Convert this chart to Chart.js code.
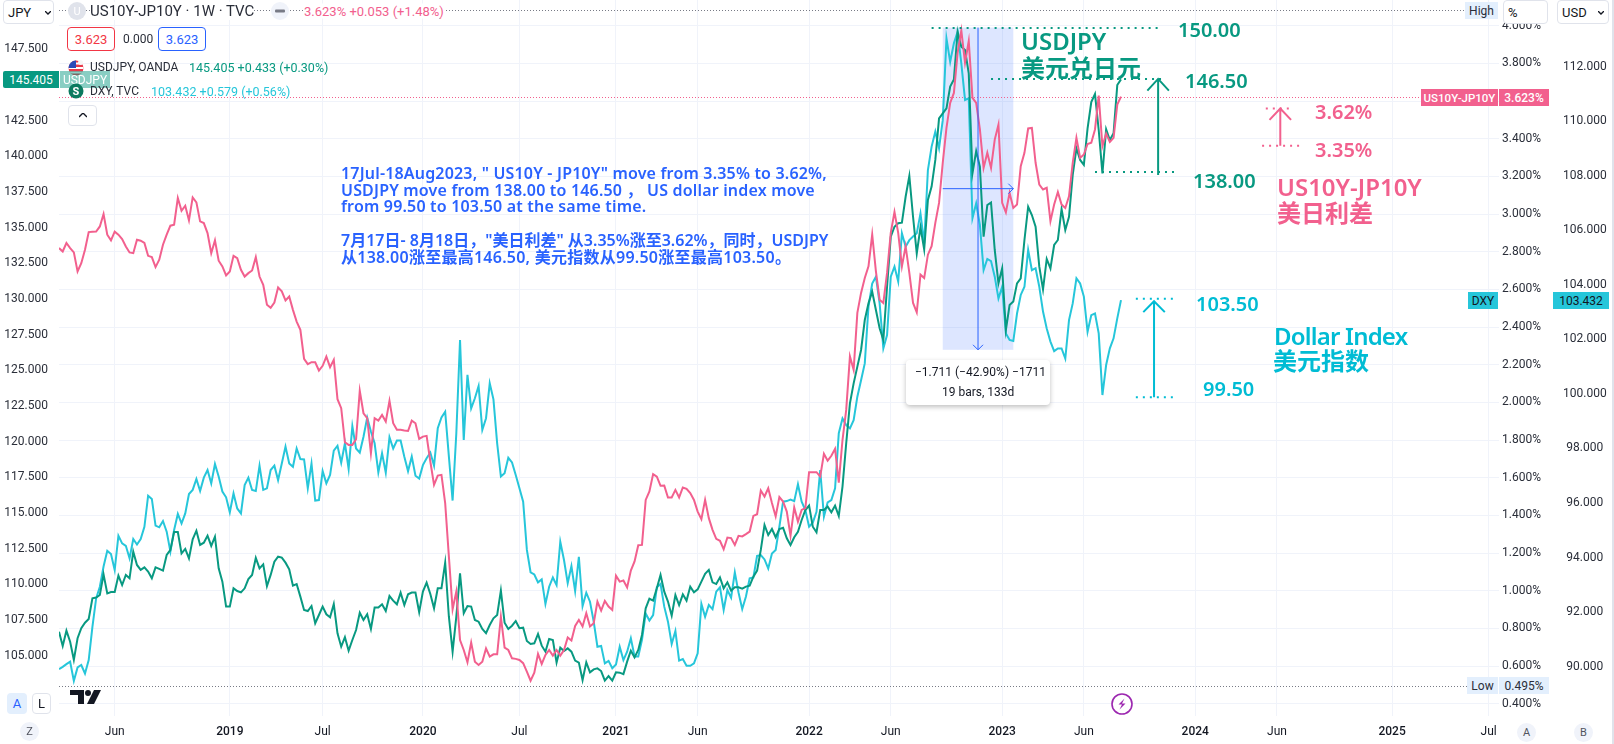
<!DOCTYPE html>
<html>
<head>
<meta charset="utf-8">
<title>US10Y-JP10Y, USDJPY, DXY</title>
<script src="https://cdn.jsdelivr.net/npm/chart.js@4"></script>
<style>
    html, body { margin: 0; background: #fff; overflow: hidden; }
    #wrap { position: relative; width: 1614px; height: 744px; font-family: Roboto, "Noto Sans CJK SC", sans-serif; color: #2a2e39; }
    #wrap canvas { position: absolute; left: 0; top: 0; }
    .t { position: absolute; white-space: nowrap; transform: translateY(-50%); }
    .box { position: absolute; box-sizing: border-box; display: flex; align-items: center; justify-content: center; white-space: nowrap; }
    .btn { border: 1px solid #e0e3eb; border-radius: 4px; background: #fff; color: #131722; font-size: 13px; }
    svg { position: absolute; }
</style>
</head>
<body>
<div id="wrap">
    <canvas id="chart" width="1614" height="744"></canvas>
</div>
<script>
// weekly closes
const spreadValues = [
    2.819,2.801,2.846,2.819,2.796,2.695,2.739,2.81,2.904,2.906,
    2.907,2.934,3.0,2.89,2.86,2.906,2.89,2.867,2.828,2.796,
    2.792,2.863,2.858,2.846,2.778,2.771,2.718,2.757,2.837,2.89,
    2.938,2.943,3.085,3.017,3.044,2.966,3.088,3.062,2.961,2.952,
    2.899,2.792,2.86,2.752,2.722,2.674,2.695,2.778,2.766,2.704,
    2.668,2.686,2.7,2.771,2.668,2.624,2.518,2.502,2.53,2.61,
    2.589,2.541,2.562,2.491,2.429,2.385,2.231,2.203,2.213,2.213,
    2.169,2.194,2.243,2.187,2.226,2.017,1.969,1.788,1.774,1.774,
    1.804,2.061,1.942,1.916,1.73,1.916,1.903,1.933,1.898,2.008,
    1.889,1.854,1.854,1.85,1.848,1.903,1.889,1.806,1.818,1.822,
    1.686,1.562,1.611,1.615,1.465,1.181,0.901,0.995,0.738,0.685,
    0.62,0.724,0.623,0.606,0.623,0.693,0.65,0.662,0.662,0.862,
    0.698,0.685,0.641,0.638,0.632,0.615,0.57,0.522,0.565,0.664,
    0.611,0.659,0.685,0.655,0.685,0.655,0.685,0.751,0.735,0.813,
    0.845,0.81,0.88,0.81,0.827,0.942,0.894,0.946,0.916,0.898,
    1.079,1.048,1.054,1.017,1.107,1.155,1.241,1.243,1.482,1.527,
    1.619,1.606,1.557,1.558,1.495,1.495,1.535,1.495,1.548,1.541,
    1.518,1.482,1.42,1.38,1.482,1.385,1.323,1.275,1.265,1.22,
    1.282,1.279,1.243,1.291,1.288,1.3,1.314,1.397,1.406,1.532,
    1.5,1.544,1.465,1.394,1.497,1.473,1.42,1.291,1.442,1.367,
    1.429,1.438,1.629,1.629,1.629,1.606,1.727,1.69,1.716,1.753,
    1.574,1.8,1.96,2.244,2.173,2.475,2.581,2.66,2.722,2.891,
    2.696,2.545,2.528,2.687,2.9,3.011,2.9,2.722,2.829,2.687,
    2.528,2.478,2.678,2.66,2.784,2.829,2.953,3.059,3.272,3.457,
    3.59,3.643,3.856,3.975,3.803,3.918,3.617,3.59,3.449,3.245,
    3.325,3.245,3.395,3.475,3.059,3.009,3.112,3.032,3.05,3.254,
    3.325,3.454,3.457,3.272,3.156,3.13,3.139,2.962,3.05,3.117,
    3.05,3.032,3.094,3.272,3.404,3.298,3.316,3.372,3.378,3.449,
    3.629,3.36,3.427,3.383,3.404,3.581,3.623
];
const usdjpyValues = [
    106.68,105.68,106.75,105.98,104.7,106.22,106.92,107.31,107.57,109.02,
    109.07,109.25,110.7,109.37,109.46,109.46,110.61,109.95,110.66,110.42,
    112.29,111.36,111.01,111.19,110.89,110.42,111.19,111.08,110.96,112.06,
    112.41,113.67,113.67,112.17,112.48,111.82,113.16,113.76,112.76,112.92,
    113.41,112.69,113.34,111.12,110.19,108.44,108.44,109.72,109.53,109.44,
    109.72,110.37,110.66,111.85,111.12,111.4,109.88,110.66,111.59,111.94,
    111.87,111.52,111.05,109.91,110.02,109.14,108.2,108.13,108.48,107.27,
    107.85,108.44,107.9,107.69,108.62,106.57,105.63,106.29,105.35,106.1,
    106.8,108.01,107.5,107.9,106.87,108.37,108.37,108.6,108.13,109.18,
    108.86,108.6,109.42,108.55,109.3,109.42,109.42,108.04,109.49,110.12,
    109.32,108.32,109.72,109.72,111.52,107.73,105.28,107.73,110.77,107.97,
    108.48,108.44,107.5,107.38,106.87,106.57,107.15,107.62,107.85,109.56,
    107.31,106.87,107.1,107.43,106.92,106.96,106.03,105.82,105.87,106.52,
    105.7,105.28,106.17,106.1,104.51,105.56,105.33,105.51,105.28,104.65,
    104.51,103.29,104.53,103.83,104.04,104.11,103.92,103.25,103.57,103.25,
    103.83,103.81,103.71,104.58,105.35,104.88,105.4,106.45,108.32,108.99,
    108.86,109.72,110.66,109.49,108.79,107.8,109.25,108.55,109.3,108.86,
    109.84,109.44,109.65,110.19,110.73,111.01,110.14,110.02,110.49,109.72,
    110.14,109.56,109.79,109.79,109.7,109.84,109.91,110.54,110.96,112.41,
    114.16,113.46,113.88,113.3,113.88,113.97,113.23,112.76,113.3,113.69,
    114.51,115.21,115.52,114.04,113.65,115.21,115.21,115.45,115.05,115.52,
    114.79,116.85,119.89,122.69,124.09,125.26,126.43,128.53,129.7,130.52,
    129.23,127.95,127.13,130.87,134.37,135.07,135.31,135.35,137.17,138.63,
    135.77,133.2,135.03,133.48,136.94,137.88,139.75,142.67,143.02,143.37,
    144.89,145.4,148.74,147.69,147.46,145.82,138.81,140.38,139.28,134.37,
    136.59,136.76,133.44,131.1,132.15,127.83,129.58,129.82,131.1,131.45,
    134.14,136.47,135.89,135.07,132.27,130.68,132.81,132.15,133.79,134.14,
    136.31,134.84,135.77,138.7,140.57,139.75,139.4,141.97,143.81,144.37,
    141.85,138.81,141.9,141.15,141.62,145.0,145.4
];
const dxyValues = [
    89.91,89.99,90.09,90.18,89.48,89.97,90.06,89.75,90.24,91.46,
    92.5,92.93,93.67,94.25,94.13,93.54,94.8,94.52,94.43,93.97,
    94.68,94.48,94.68,95.13,96.27,96.15,95.17,95.11,95.34,94.95,
    94.22,95.01,95.6,95.25,95.62,96.33,96.48,96.88,96.44,96.93,
    97.21,96.72,97.43,96.97,96.42,96.21,95.66,96.35,95.8,95.62,
    96.66,96.93,96.48,96.44,97.37,96.48,96.54,97.21,97.37,96.84,
    97.45,98.07,97.45,97.33,98.0,97.61,97.6,96.54,97.45,96.09,
    96.11,97.17,96.72,97.03,97.92,98.1,97.48,98.19,97.25,98.82,
    98.0,97.85,98.43,99.13,98.62,98.19,97.12,97.82,97.11,98.41,
    98.0,98.29,98.29,97.7,97.17,97.7,97.0,96.9,97.39,97.64,
    97.85,97.37,98.74,99.14,99.35,97.7,96.09,98.56,101.98,98.31,
    100.7,99.47,99.84,100.29,98.68,99.11,100.39,99.8,98.19,96.97,
    97.09,97.66,97.49,97.03,96.54,96.05,94.28,93.46,93.38,93.09,
    93.2,92.3,92.93,93.27,92.99,94.58,93.91,93.06,93.69,92.77,
    94.03,92.22,92.71,92.38,91.65,90.73,90.76,90.12,90.21,89.94,
    90.08,90.73,90.24,90.55,91.04,90.37,90.37,90.98,91.95,91.69,
    91.89,92.91,93.03,92.2,91.65,90.83,91.31,90.22,90.28,90.03,
    90.03,90.12,90.49,92.3,91.83,92.26,92.11,92.75,92.91,92.08,
    92.81,92.53,93.46,92.72,92.11,92.57,93.24,93.27,94.06,94.09,
    93.93,93.6,94.15,94.28,95.13,96.05,96.07,96.13,96.07,96.69,
    96.05,95.74,95.13,95.28,95.68,97.21,95.5,96.02,96.11,96.54,
    98.56,99.1,98.86,98.74,99.04,99.9,100.5,101.12,103.2,104.05,
    104.3,103.32,101.67,102.16,104.3,104.67,104.12,105.89,105.4,105.64,
    105.77,105.89,106.62,105.52,108.21,109.07,109.62,109.01,110.04,113.04,
    112.18,112.86,113.28,112.12,110.78,110.84,106.44,106.99,106.2,104.54,
    104.95,104.87,104.3,103.5,103.93,102.22,101.98,101.94,102.95,103.63,
    103.93,105.28,104.54,104.61,103.93,103.02,102.4,101.92,101.57,101.67,
    101.67,101.3,102.71,103.32,104.24,104.05,103.57,102.28,102.89,102.95,
    102.22,99.96,101.06,101.67,102.04,102.77,103.44
];

// axes
const weekTicks = [15, 46, 71, 98, 124, 150, 172, 202, 224, 254, 276, 306, 328, 359, 385];
const weekLabels = ['Jun', '2019', 'Jul', '2020', 'Jul', '2021', 'Jun', '2022', 'Jun', '2023', 'Jun', '2024', 'Jun', '2025', 'Jul'];
const jpyTicks = [147.5, 145, 142.5, 140, 137.5, 135, 132.5, 130, 127.5, 125, 122.5, 120, 117.5, 115, 112.5, 110, 107.5, 105];
const pctTicks = [4.0, 3.8, 3.6, 3.4, 3.2, 3.0, 2.8, 2.6, 2.4, 2.2, 2.0, 1.8, 1.6, 1.4, 1.2, 1.0, 0.8, 0.6, 0.4];
const usdTicks = [112, 110, 108, 106, 104, 102, 100, 98, 96, 94, 92, 90];

const PINK = '#F2608E';
const GREEN = '#089981';
const CYAN = '#26C6DA';
const TEAL = '#00BCD4';
const BLUE = '#2962FF';
const GRID = '#f0f3fa';
const SANS = 'Roboto, "Noto Sans CJK SC", sans-serif';

function toPoints(values) {
    return values.map((v, i) => ({ x: i, y: v }));
}

// hand drawn levels, in each series' own units
const measureWeeks = [238, 257];
const measureLevels = [3.99, 2.279];
const usdjpyLevels = [
    { level: 149.0, from: 235, to: 297 },
    { level: 145.43, from: 251, to: 298 },
    { level: 138.9, from: 279, to: 300.6 }
];
const spreadLevels = [
    { level: 3.56, from: 325, to: 332 },
    { level: 3.363, from: 324, to: 334 }
];
const dxyLevels = [
    { level: 103.49, from: 290, to: 300 },
    { level: 99.88, from: 290, to: 300.3 }
];

const drawings = {
    id: 'drawings',
    beforeDatasetsDraw(chart) {
        const { ctx, scales } = chart;
        const x = scales.x, pct = scales.pct;
        const left = x.getPixelForValue(measureWeeks[0]);
        const right = x.getPixelForValue(measureWeeks[1]);
        const top = pct.getPixelForValue(measureLevels[0]);
        const bottom = pct.getPixelForValue(measureLevels[1]);
        ctx.save();
        ctx.fillStyle = 'rgba(41, 98, 255, 0.16)';
        ctx.fillRect(left, top, right - left, bottom - top);

        // high, low and last value lines
        ctx.lineWidth = 1;
        ctx.setLineDash([1, 2]);
        ctx.strokeStyle = '#787b86';
        hLine(ctx, 10.5, 59, 1465);
        hLine(ctx, Math.round(pct.getPixelForValue(0.495)) + 0.5, 59, 1467);
        ctx.strokeStyle = PINK;
        hLine(ctx, Math.round(pct.getPixelForValue(3.623)) + 0.5, 59, 1421);
        ctx.restore();
    },
    afterDatasetsDraw(chart) {
        const { ctx, scales } = chart;
        const x = scales.x, pct = scales.pct;
        ctx.save();
        drawLevels(chart, usdjpyLevels, scales.jpy, GREEN);
        drawLevels(chart, spreadLevels, pct, PINK);
        drawLevels(chart, dxyLevels, scales.usd, TEAL);
        drawArrow(ctx, x, scales.jpy, 296, 138.7, 145.43, 2.9, 0.82, GREEN, 2);
        drawArrow(ctx, x, pct, 328.9, 3.363, 3.56, 2.9, 0.06, PINK, 2);
        drawArrow(ctx, x, scales.usd, 294.9, 99.88, 103.4, 2.9, 0.4, TEAL, 2);

        // measuring cross
        const midX = x.getPixelForValue((measureWeeks[0] + measureWeeks[1]) / 2);
        const midY = pct.getPixelForValue((measureLevels[0] + measureLevels[1]) / 2);
        const l = x.getPixelForValue(measureWeeks[0]), r = x.getPixelForValue(measureWeeks[1]);
        const t = pct.getPixelForValue(measureLevels[0]), b = pct.getPixelForValue(measureLevels[1]);
        ctx.strokeStyle = BLUE;
        ctx.lineWidth = 1;
        ctx.setLineDash([]);
        ctx.beginPath();
        ctx.moveTo(midX, t); ctx.lineTo(midX, b);
        ctx.moveTo(midX - 5, b - 5); ctx.lineTo(midX, b); ctx.lineTo(midX + 5, b - 5);
        ctx.moveTo(l, midY); ctx.lineTo(r, midY);
        ctx.moveTo(r - 5, midY - 5); ctx.lineTo(r, midY); ctx.lineTo(r - 5, midY + 5);
        ctx.stroke();
        ctx.restore();
    }
};

function hLine(ctx, y, x0, x1) {
    ctx.beginPath();
    ctx.moveTo(x0, y);
    ctx.lineTo(x1, y);
    ctx.stroke();
}

function drawLevels(chart, levels, scale, color) {
    const { ctx, scales } = chart;
    ctx.strokeStyle = color;
    ctx.lineWidth = 2;
    ctx.setLineDash([2, 5]);
    levels.forEach(item => {
        hLine(ctx, scale.getPixelForValue(item.level), scales.x.getPixelForValue(item.from), scales.x.getPixelForValue(item.to));
    });
}

function drawArrow(ctx, x, scale, week, from, to, headWeeks, headValue, color, width) {
    const px = x.getPixelForValue(week);
    const tip = scale.getPixelForValue(to);
    const headY = scale.getPixelForValue(to - headValue);
    const dx = x.getPixelForValue(week + headWeeks) - px;
    ctx.strokeStyle = color;
    ctx.lineWidth = width;
    ctx.setLineDash([]);
    ctx.beginPath();
    ctx.moveTo(px, scale.getPixelForValue(from));
    ctx.lineTo(px, tip);
    ctx.moveTo(px - dx, headY);
    ctx.lineTo(px, tip);
    ctx.lineTo(px + dx, headY);
    ctx.stroke();
}

function fixedTicks(list) {
    return scale => { scale.ticks = list.map(v => ({ value: v })); };
}

// no label overhang, so the plot keeps its full height
function noPadding(scale) {
    scale.paddingTop = 0;
    scale.paddingBottom = 0;
    scale.paddingLeft = 0;
    scale.paddingRight = 0;
}

function fixedWidth(w) {
    return scale => { scale.width = w; noPadding(scale); };
}

new Chart(document.getElementById('chart'), {
    type: 'line',
    data: {
        datasets: [
            { label: 'US10Y-JP10Y', data: toPoints(spreadValues), yAxisID: 'pct', borderColor: PINK, order: 1 },
            { label: 'USDJPY', data: toPoints(usdjpyValues), yAxisID: 'jpy', borderColor: GREEN, order: 2 },
            { label: 'DXY', data: toPoints(dxyValues), yAxisID: 'usd', borderColor: CYAN, order: 3 }
        ]
    },
    options: {
        responsive: false,
        animation: false,
        parsing: false,
        layout: { padding: { right: 3 } },
        elements: { point: { radius: 0 }, line: { borderWidth: 2, tension: 0 } },
        plugins: { legend: { display: false }, tooltip: { enabled: false } },
        scales: {
            x: {
                type: 'linear',
                min: 0,
                max: 387.8,
                afterBuildTicks: fixedTicks(weekTicks),
                afterFit: scale => { scale.height = 28; noPadding(scale); },
                grid: { color: GRID, drawTicks: false },
                border: { display: false },
                ticks: {
                    autoSkip: false,
                    maxRotation: 0,
                    padding: 9,
                    color: '#131722',
                    font: ctx => ({ family: SANS, size: 12, weight: /^\d/.test(weekLabels[ctx.index] || '') ? '500' : '400' }),
                    callback: (value, index) => weekLabels[index]
                }
            },
            jpy: {
                position: 'left',
                min: 100.77,
                max: 150.963,
                afterBuildTicks: fixedTicks(jpyTicks),
                afterFit: fixedWidth(59),
                grid: { display: false },
                border: { display: false },
                ticks: { crossAlign: 'center', autoSkip: false, color: '#2a2e39', font: { family: SANS, size: 12 }, callback: v => v.toFixed(3) }
            },
            pct: {
                position: 'right',
                weight: 0,
                min: 0.3346,
                max: 4.1363,
                afterBuildTicks: fixedTicks(pctTicks),
                afterFit: fixedWidth(53),
                grid: { color: GRID, drawTicks: false },
                border: { display: false },
                ticks: { crossAlign: 'center', autoSkip: false, color: '#2a2e39', font: { family: SANS, size: 12 }, callback: v => v.toFixed(3) + '%' }
            },
            usd: {
                position: 'right',
                weight: 1,
                min: 88.19,
                max: 114.446,
                afterBuildTicks: fixedTicks(usdTicks),
                afterFit: fixedWidth(59),
                grid: { display: false },
                border: { display: false },
                ticks: { crossAlign: 'center', autoSkip: false, color: '#2a2e39', font: { family: SANS, size: 12 }, callback: v => v.toFixed(3) }
            }
        }
    },
    plugins: [drawings]
});

// texts and chrome around the plot
const wrap = document.getElementById('wrap');

function text(str, x, y, color, size, weight, family, extra) {
    const el = document.createElement('div');
    el.className = 't';
    el.textContent = str;
    el.style.cssText = `left:${x}px;top:${y}px;color:${color};font-size:${size}px;font-weight:${weight || 400};` +
        (family ? `font-family:${family};` : '') + (extra || '');
    wrap.appendChild(el);
    return el;
}

function box(str, x, y, w, h, css, cls) {
    const el = document.createElement('div');
    el.className = 'box' + (cls ? ' ' + cls : '');
    el.textContent = str;
    el.style.cssText = `left:${x}px;top:${y}px;width:${w}px;height:${h}px;` + (css || '');
    wrap.appendChild(el);
    return el;
}

function svg(markup, x, y, w, h) {
    wrap.insertAdjacentHTML('beforeend', `<svg style="left:${x}px;top:${y}px" width="${w}" height="${h}" viewBox="0 0 ${w} ${h}">${markup}</svg>`);
}

const NOTE = '"Noto Sans", "Noto Sans CJK SC", sans-serif';

// blue note
const noteLines = [
    ['17Jul-18Aug2023, " US10Y - JP10Y" move from 3.35% to 3.62%,', 172.5, 0.18],
    ['USDJPY move from 138.00 to 146.50 ，  US dollar index move', 189, 0.18],
    ['from 99.50 to 103.50 at the same time.', 205.5, 0.18],
    ['7月17日- 8月18日，"美日利差" 从3.35%涨至3.62%，同时，USDJPY', 239, 0],
    ['从138.00涨至最高146.50, 美元指数从99.50涨至最高103.50。', 256, 0.25]
];
noteLines.forEach(line => text(line[0], 341, line[1], BLUE, 16, 600, NOTE, `letter-spacing:${line[2]}px;`));

// level and series captions
text('150.00', 1178, 29, GREEN, 20, 600, NOTE);
text('146.50', 1185, 80, GREEN, 20, 600, NOTE);
text('138.00', 1193, 180, GREEN, 20, 600, NOTE);
text('USDJPY', 1021, 40, GREEN, 24, 600, NOTE);
text('美元兑日元', 1021, 65.5, GREEN, 24, 700, NOTE);
text('3.62%', 1315, 111, PINK, 20, 600, NOTE);
text('3.35%', 1315, 149, PINK, 20, 600, NOTE);
text('US10Y-JP10Y', 1277, 186, PINK, 24, 600, NOTE);
text('美日利差', 1277, 210.5, PINK, 24, 700, NOTE);
text('103.50', 1196, 303, TEAL, 20, 600, NOTE);
text('99.50', 1203, 388, TEAL, 20, 600, NOTE);
text('Dollar Index', 1274, 335, TEAL, 24, 600, NOTE, 'letter-spacing:-0.8px;');
text('美元指数', 1273, 359, TEAL, 24, 700, NOTE);

// measure tooltip
box('', 906, 360, 144, 45, 'background:#fff;border-radius:4px;box-shadow:0 2px 5px rgba(0,0,0,.25);');
text('−1.711 (−42.90%) −1711', 915, 372, '#131722', 12);
text('19 bars, 133d', 942, 392, '#131722', 12);

// top left legend
box('JPY', 3, 0, 51, 24, 'justify-content:flex-start;padding-left:4px;', 'btn');
svg('<path d="M0 0l3 3 3-3" fill="none" stroke="#131722" stroke-width="1.3"/>', 44.5, 11, 6, 4);
svg('<circle cx="9" cy="9" r="9" fill="#e0e3eb"/><text x="9" y="13" font-size="11" font-family="Roboto" fill="#fff" text-anchor="middle">U</text>', 68, 2, 18, 18);
text('US10Y-JP10Y · 1W · TVC', 90, 11, '#2a2e39', 15, 400, null, 'background:#fff;');
svg('<circle cx="9" cy="9" r="9" fill="#f0f3fa"/><rect x="4" y="7.5" width="10" height="3" rx="1" fill="#787b86"/>', 271, 2, 18, 18);
text('3.623% +0.053 (+1.48%)', 304, 11, PINK, 13, 400, null, 'background:#fff;');
box('3.623', 67, 27, 48, 24, 'border:1px solid #f23645;border-radius:4px;color:#f23645;font-size:13px;background:#fff;');
text('0.000', 123, 39, '#2a2e39', 12);
box('3.623', 158, 27, 48, 24, `border:1px solid ${BLUE};border-radius:4px;color:${BLUE};font-size:13px;background:#fff;`);

svg('<defs><clipPath id="fl"><circle cx="8" cy="8" r="7.5"/></clipPath></defs><g clip-path="url(#fl)"><rect width="16" height="16" fill="#e8394a"/><rect y="2.5" width="16" height="2" fill="#fff"/><rect y="7" width="16" height="2" fill="#fff"/><rect y="11.5" width="16" height="2" fill="#fff"/><rect width="8" height="8" fill="#2a4bb8"/></g><circle cx="12.5" cy="2.5" r="2.5" fill="#f6f6f6"/>', 68, 60, 16, 16);
text('USDJPY, OANDA', 90, 67, '#2a2e39', 12);
text('145.405 +0.433 (+0.30%)', 189, 67, GREEN, 12.5);
box('145.405', 3, 71, 56, 17, `background:${GREEN};color:#fff;font-size:12px;border-radius:2px 0 0 2px;`);
box('USDJPY', 60, 71, 50, 17, 'background:rgba(8,153,129,.48);color:#fff;font-size:12px;');
svg('<circle cx="8" cy="8" r="7.5" fill="#0b7a5f"/><text x="8" y="12" font-size="11" font-weight="700" font-family="Roboto" fill="#fff" text-anchor="middle">S</text>', 68, 83, 16, 16);
text('DXY, TVC', 90, 91, '#2a2e39', 12);
text('103.432 +0.579 (+0.56%)', 151, 91, CYAN, 12.5);
box('', 68, 105, 29, 21, '', 'btn');
svg('<path d="M0 4l4-4 4 4" fill="none" stroke="#131722" stroke-width="1.4"/>', 78.5, 113, 8, 5);

// right hand tags
box('US10Y-JP10Y', 1421, 89, 77, 17, `background:${PINK};color:#fff;font-size:11.5px;font-weight:500;`);
box('3.623%', 1499, 89, 50, 17, `background:${PINK};color:#fff;font-size:12px;font-weight:500;`);
box('DXY', 1468, 292, 30, 17, `background:${CYAN};color:#131722;font-size:12px;`);
box('103.432', 1553, 292, 56, 17, `background:${CYAN};color:#131722;font-size:12px;`);
box('High', 1465, 2, 33, 17, 'background:#e3effd;color:#2a2e39;font-size:12px;');
box('Low', 1467, 677, 31, 17, 'background:#e3effd;color:#2a2e39;font-size:12px;');
box('0.495%', 1499, 677, 50, 17, 'background:#e3effd;color:#2a2e39;font-size:12px;');
box('%', 1503, 0, 45, 24, 'justify-content:flex-start;padding-left:4px;', 'btn');
box('USD', 1557, 0, 52, 24, 'justify-content:flex-start;padding-left:4px;', 'btn');
svg('<path d="M0 0l3 3 3-3" fill="none" stroke="#131722" stroke-width="1.3"/>', 1598, 11, 6, 4);
box('', 1612, 0, 2, 744, 'background:#e0e3eb;');

// bottom corners
box('A', 7, 693, 20, 21, `background:#e3effd;color:${BLUE};border-radius:4px;font-size:13px;`);
box('L', 32, 693, 19, 21, '', 'btn');
box('Z', 20, 722, 19, 19, 'background:#f0f3fa;border-radius:50%;font-size:11px;color:#50535e;');
box('A', 1517, 723, 19, 19, 'background:#f0f3fa;border-radius:50%;font-size:11px;color:#50535e;');
box('B', 1574, 723, 19, 19, 'background:#f0f3fa;border-radius:50%;font-size:11px;color:#50535e;');

// logo and event marker
svg('<path d="M0 0h14v14h-6V5H0z" fill="#131722"/><circle cx="18" cy="3" r="3" fill="#131722"/><path d="M24 0h7l-7 14h-7z" fill="#131722"/>', 70, 690, 31, 14);
svg('<circle cx="11" cy="11" r="10" fill="#fff" stroke="#9c27b0" stroke-width="1.6"/><path d="M13.5 5.5l-6 6 3.5 0-2.5 5 6-6-3.5 0z" fill="#9c27b0"/>', 1111, 693, 22, 22);
</script>
</body>
</html>
